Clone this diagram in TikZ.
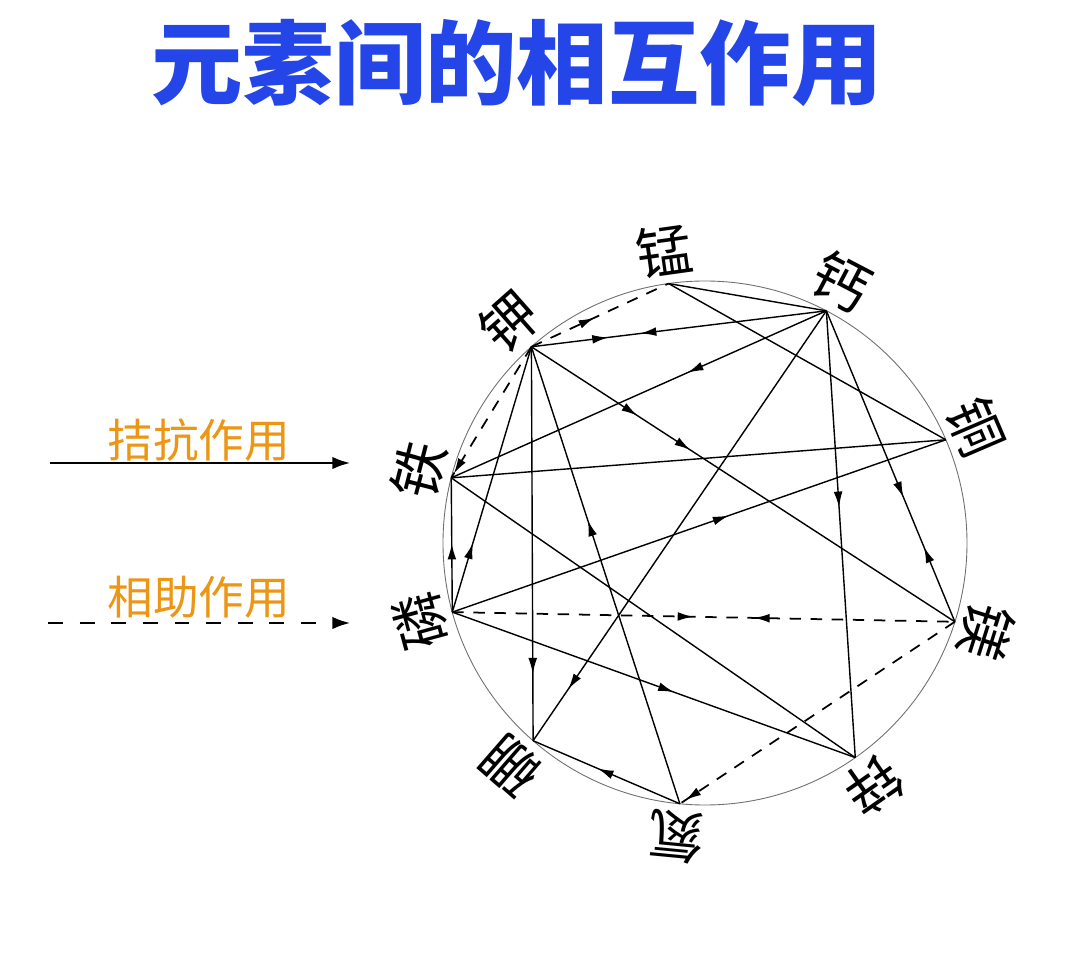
\documentclass[tikz,border=0pt]{standalone}
\usepackage{fontspec}
\newfontfamily\cjk{Noto Sans CJK SC}
\usepackage{tikz}
\usetikzlibrary{arrows.meta, decorations.markings}

\definecolor{titleblue}{RGB}{36,70,232}
\definecolor{legorange}{RGB}{236,150,20}
\definecolor{ringgray}{RGB}{110,110,110}

\begin{document}
\begin{tikzpicture}[x=0.02cm, y=0.02cm, >={Latex[length=9pt,width=5pt]},
    chord/.style={line width=0.8pt},
    helpchord/.style={line width=1pt, dash pattern=on 6.5pt off 5.5pt},
    elem/.style={font=\cjk\fontsize{32}{34}\selectfont, inner sep=0pt},
    legtext/.style={font=\cjk\fontsize{26}{28}\selectfont, inner sep=0pt, text=legorange},
    fwd/.style={postaction={decorate, decoration={markings,
        mark=at position #1 with {\arrow{>}}}}},
    bwd/.style={postaction={decorate, decoration={markings,
        mark=at position #1 with {\arrowreversed{>}}}}}]
    \useasboundingbox (0,0) rectangle (1080,958);

    % title
    \node[font=\cjk\bfseries\fontsize{52}{54}\selectfont, text=titleblue] (title) at (517,895) {元素间的相互作用};

    % legend
    \coordinate (antiS) at (50,495);
    \coordinate (antiE) at (350,495);
    \coordinate (helpS) at (48,335);
    \coordinate (helpE) at (350,335);
    \draw[line width=1pt, -{Latex[length=10pt,width=7pt]}] (antiS) -- (antiE);
    \draw[line width=1pt, dash pattern=on 8.5pt off 9.5pt, -{Latex[length=10pt,width=7pt]}] (helpS) -- (helpE);
    \node[legtext] (anti) at (199,518) {拮抗作用};
    \node[legtext] (help) at (199,361) {相助作用};

    % ring of elements
    \coordinate (O) at (705,415);
    \draw[ringgray, line width=0.5pt] (O) circle (262);
    \foreach \nm/\ang/\txt in {Mn/98/锰, Ca/62.4/钙, Cu/23.2/铜, Mg/-17.5/镁, Zn/-55/锌,
                              N/-95.5/氮, B/-131/硼, P/195.3/磷, Fe/165.6/铁, K/131.5/钾} {
        \path (O) ++(\ang:262) coordinate (\nm);
        \path (O) ++(\ang:295) node[elem, rotate=\ang-90] (\nm-txt) {\txt};
    }

    % antagonism
    \draw[chord, fwd=0.26, bwd=0.37] (K) -- (Ca);
    \draw[chord, fwd=0.25, fwd=0.375] (K) -- (Mg);
    \draw[chord, fwd=0.26] (P) -- (K);
    \draw[chord, fwd=0.83] (K) -- (B);
    \draw[chord, fwd=0.62] (N) -- (K);
    \draw[chord] (Mn) -- (Ca);
    \draw[chord] (Mn) -- (Cu);
    \draw[chord, fwd=0.37] (Ca) -- (Fe);
    \draw[chord, fwd=0.88] (Ca) -- (B);
    \draw[chord, fwd=0.44] (Ca) -- (Zn);
    \draw[chord, fwd=0.6, bwd=0.76] (Ca) -- (Mg);
    \draw[chord] (Cu) -- (Fe);
    \draw[chord, fwd=0.56] (P) -- (Cu);
    \draw[chord, fwd=0.51] (P) -- (Fe);
    \draw[chord] (Fe) -- (Zn);
    \draw[chord, fwd=0.55] (P) -- (Zn);
    \draw[chord, fwd=0.56] (N) -- (B);

    % mutual help
    \draw[helpchord, fwd=0.46] (K) -- (Mn);
    \draw[helpchord, fwd=0.97] (K) -- (Fe);
    \draw[helpchord, fwd=0.48, bwd=0.6] (P) -- (Mg);
    \draw[helpchord, fwd=0.98] (Mg) -- (N);
\end{tikzpicture}
\end{document}
